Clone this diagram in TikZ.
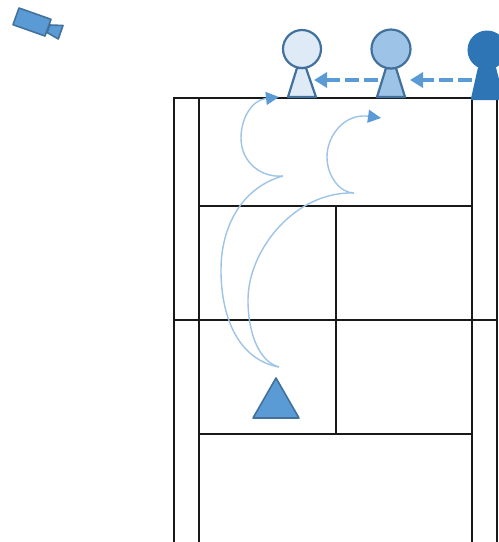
\documentclass[tikz,border=0pt]{standalone}
\usetikzlibrary{arrows.meta}
\definecolor{blueA}{HTML}{5B9BD5}
\definecolor{blueB}{HTML}{41719C}
\definecolor{blueC}{HTML}{9DC3E6}
\definecolor{blueD}{HTML}{DEEBF7}
\definecolor{blueE}{HTML}{2E75B6}
\tikzset{
  wall/.style={draw=black!90,line width=1.9pt,line cap=rect},
  person/.style={line width=2.2pt,line join=round},
  walk/.style={draw=blueA,line width=4.6pt,dash pattern=on 14pt off 5pt,-{Triangle[length=13pt,width=15pt,fill=blueA]}},
  path1/.style={draw=blueC,line width=1.4pt,-{Triangle[length=13pt,width=13pt,fill=blueA,color=blueA]}},
  path2/.style={draw=blueC,line width=1.4pt},
}
\begin{document}
\begin{tikzpicture}[x=1pt,y=-1pt]
\useasboundingbox (0,0) rectangle (499,542);
\clip (0,0) rectangle (499,542);
% walls
\draw[wall] (174,542) -- (174,98) -- (497,98) -- (497,542);
\draw[wall] (199,542) -- (199,98);
\draw[wall] (472,542) -- (472,98);
\draw[wall] (199,206) -- (472,206);
\draw[wall] (174,320) -- (497,320);
\draw[wall] (199,434) -- (472,434);
\draw[wall] (336,206) -- (336,434);
% curved paths
\draw[path2] (279,367) .. controls (240,360) and (221,320) .. (221,270) .. controls (221,225) and (243,187) .. (283,176);
\draw[path1] (283,176) .. controls (262,178) and (241,163) .. (241,138) .. controls (241,118) and (252,100) .. (279,97);
\draw[path2] (279,367) .. controls (260,362) and (248,335) .. (248,300) .. controls (248,250) and (295,191) .. (354,193);
\draw[path1] (354,193) .. controls (340,193) and (327,176) .. (327,157) .. controls (327,135) and (345,113) .. (381,118);
% triangle marker
\draw[fill=blueA,draw=blueB,line width=1.6pt,line join=round] (276,378) -- (299,418) -- (253,418) -- cycle;
% persons
\draw[person,draw=blueB,fill=blueD] (297,68) -- (306,68) -- (316,97) -- (288,97) -- cycle;
\node[circle,draw=blueB,fill=blueD,line width=2.2pt,minimum size=38pt,inner sep=0pt] (p1) at (302,49) {};
\draw[person,draw=blueB,fill=blueC] (386,68) -- (396,68) -- (405,97) -- (377,97) -- cycle;
\node[circle,draw=blueB,fill=blueC,line width=2.2pt,minimum size=39pt,inner sep=0pt] (p2) at (391,49) {};
\draw[person,draw=blueE,fill=blueE] (479,68) -- (495,68) -- (503,99) -- (472,99) -- cycle;
\node[circle,draw=blueE,fill=blueE,line width=1pt,minimum size=38pt,inner sep=0pt] (p3) at (487,50) {};
% walking arrows
\coordinate (a1) at (378,80); \coordinate (a2) at (314,80);
\coordinate (b1) at (472,80); \coordinate (b2) at (410,80);
\draw[walk] (a1) -- (a2);
\draw[walk] (b1) -- (b2);
% camera
\draw[fill=blueA,draw=blueB,line width=1.6pt,line join=round] (50,25) -- (63,25.5) -- (58.3,39) -- (47,32.5) -- cycle;
\draw[fill=blueA,draw=blueB,line width=1.6pt,line join=round] (19,8) -- (51,19.3) -- (45,36) -- (13,24.7) -- cycle;
\end{tikzpicture}
\end{document}
